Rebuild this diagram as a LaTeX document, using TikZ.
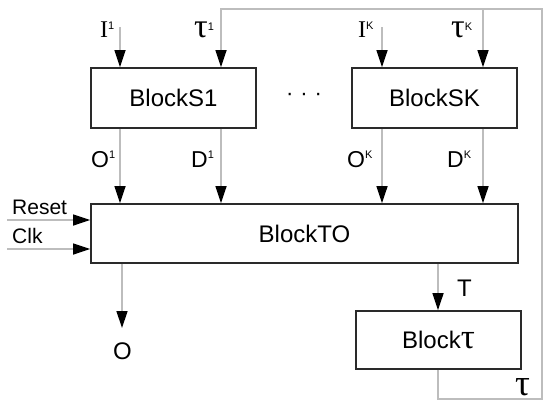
\documentclass[tikz,border=0pt]{standalone}
\usepackage{fontspec}
\setmainfont{Liberation Sans}
\newfontfamily\serifrm{Liberation Serif}
\usetikzlibrary{arrows.meta}
\newcommand\supx[2][9bp]{\raisebox{#1}{\fontsize{11bp}{11bp}\fontspec{Liberation Sans}#2}}
\definecolor{wire}{HTML}{BDBDBD}
\definecolor{edge}{HTML}{2A2A2A}
\tikzset{
  blockbox/.style={draw=edge, line width=1.6bp, inner sep=0pt, font=\fontsize{24bp}{28bp}\selectfont},
  wireline/.style={draw=wire, line width=1.3bp},
  arr/.style={wireline, -{Triangle[length=17bp,width=11bp,black]}},
  lbl/.style={inner sep=0pt, anchor=base west, font=\fontsize{23bp}{24bp}\selectfont},
  serlbl/.style={inner sep=0pt, anchor=base west, font=\fontsize{24bp}{28bp}\serifrm},
  taulbl/.style={inner sep=0pt, anchor=base west, font=\fontsize{34bp}{36bp}\serifrm},
}
\begin{document}
\begin{tikzpicture}[x=1bp,y=-1bp]
\useasboundingbox (0,0) rectangle (550,408);
% blocks
\node[blockbox, minimum width=165bp, minimum height=60bp] (s1) at (173.5,98) {BlockS1};
\node[blockbox, minimum width=165bp, minimum height=60bp] (sk) at (434.5,98) {BlockSK};
\node[blockbox, minimum width=427bp, minimum height=59bp] (to) at (304.5,233.5) {BlockTO};
\node[blockbox, minimum width=165bp, minimum height=58bp] (bt) at (438.5,340) {Block{\fontsize{35bp}{35bp}\serifrm τ}};
\node[inner sep=0pt, font=\fontsize{22bp}{24bp}\selectfont] (dots) at (304,97) {·\hspace{7bp}·\hspace{7bp}·};
% labels
\node[serlbl] (lI1) at (100,37) {I\supx[8bp]{1}};
\node[taulbl] (lt1) at (194,37) {τ\supx[7bp]{1}};
\node[serlbl] (lIK) at (358,37) {I\supx[8bp]{K}};
\node[taulbl] (ltK) at (451,37) {τ\supx[7bp]{K}};
\node[lbl] (lO1) at (91,167) {O\supx{1}};
\node[lbl] (lD1) at (191,167) {D\supx{1}};
\node[lbl] (lOK) at (347,167) {O\supx{K}};
\node[lbl] (lDK) at (447,167) {D\supx{K}};
\node[lbl, font=\fontsize{21bp}{24bp}\selectfont] (lrst) at (12,214) {Reset};
\node[lbl, font=\fontsize{21bp}{24bp}\selectfont] (lclk) at (12,243) {Clk};
\node[lbl, font=\fontsize{24bp}{24bp}\selectfont] (lO) at (113,359) {O};
\node[lbl, font=\fontsize{24bp}{24bp}\selectfont] (lT) at (457,296) {T};
\node[taulbl, font=\fontsize{37bp}{38bp}\serifrm] (ltau) at (515,395) {τ};
% free ends
\coordinate (i1) at (120,27);
\coordinate (iK) at (382,27);
\coordinate (fbTL) at (221,9);
\coordinate (fbTK) at (483,9);
\coordinate (fbBL) at (438,399);
\coordinate (fbBR) at (542,399);
\coordinate (rst) at (7,220);
\coordinate (clk) at (7,249);
\coordinate (oout) at (122,328);
\coordinate (o1x) at (120,0);
\coordinate (d1x) at (221,0);
\coordinate (okx) at (382,0);
\coordinate (dkx) at (483,0);
\coordinate (tx) at (438,0);
% inputs to S blocks
\draw[arr] (i1) -- (i1 |- s1.north);
\draw[arr] (iK) -- (iK |- sk.north);
\draw[arr] (fbBL |- bt.south) -- (fbBL) -- (fbBR) |- (fbTL) -- (fbTL |- s1.north);
\draw[arr] (fbTK) -- (fbTK |- sk.north);
% S blocks to TO
\draw[arr] (o1x |- s1.south) -- (o1x |- to.north);
\draw[arr] (d1x |- s1.south) -- (d1x |- to.north);
\draw[arr] (okx |- sk.south) -- (okx |- to.north);
\draw[arr] (dkx |- sk.south) -- (dkx |- to.north);
% control inputs
\draw[arr] (rst) -- (rst -| to.west);
\draw[arr] (clk) -- (clk -| to.west);
% outputs
\draw[arr] (oout |- to.south) -- (oout);
\draw[arr] (tx |- to.south) -- (tx |- bt.north);
\end{tikzpicture}
\end{document}
